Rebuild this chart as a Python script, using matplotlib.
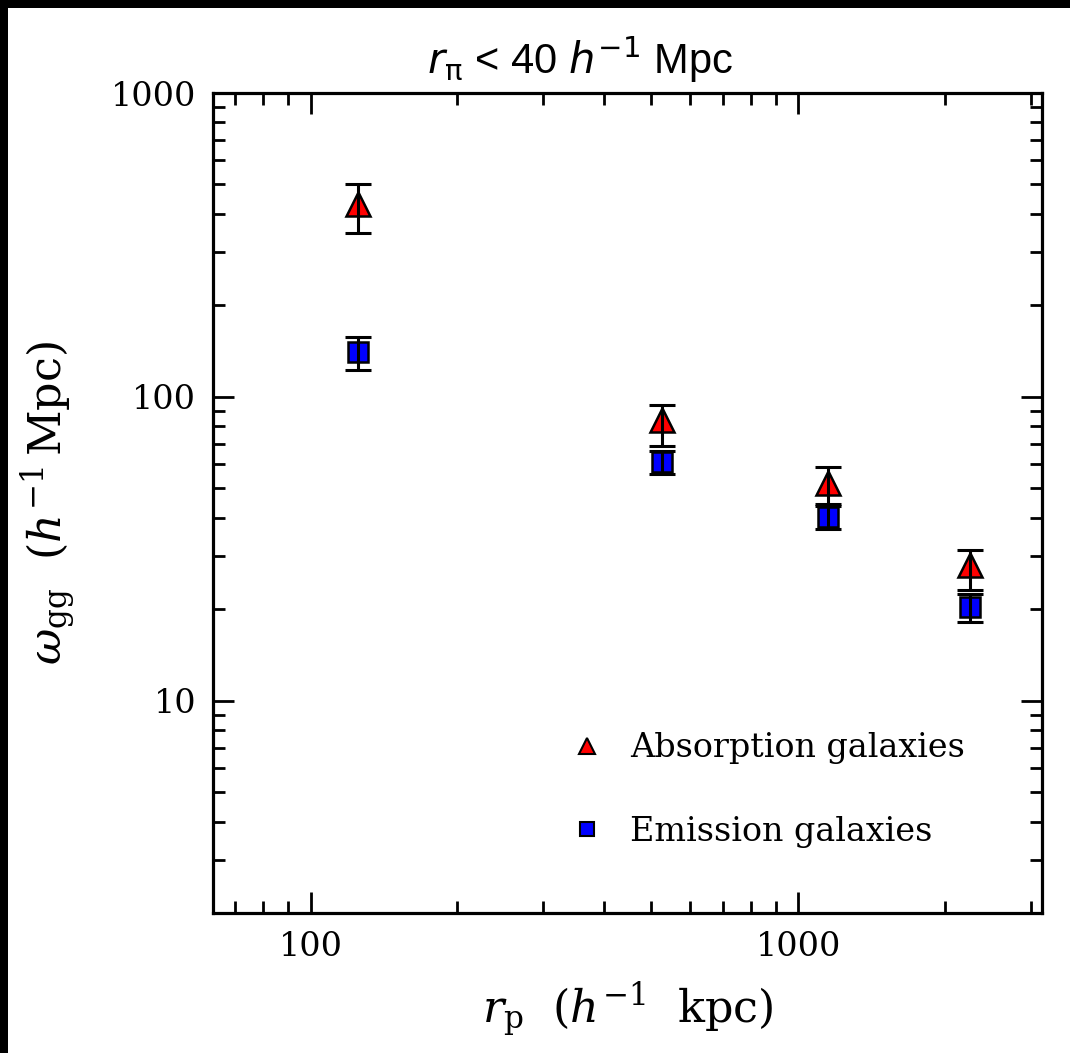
import matplotlib
matplotlib.use("Agg")
import matplotlib.pyplot as plt
from matplotlib.lines import Line2D
from matplotlib.patches import Rectangle
import numpy as np

# ---- data ----
rp = [125.3, 526.6, 1152.6, 2255.0]
abs_w = [431.0, 83.8, 52.2, 27.9]
abs_hi = [500.0, 94.2, 58.7, 31.3]
abs_lo = [345.0, 68.7, 44.5, 23.2]
em_w = [140.0, 60.9, 40.1, 20.3]
em_hi = [157.0, 66.1, 43.6, 22.4]
em_lo = [122.6, 55.8, 36.8, 18.1]
labels = ["Absorption galaxies", "Emission galaxies"]
xticks = [100, 1000]
yticks = [10, 100, 1000]

W, H = 1070, 1053
fig = plt.figure(figsize=(W / 100, H / 100), dpi=100)
fig.patch.set_facecolor("white")

# black frame strips (left and top)
fig.patches.append(Rectangle((0, 0), 8 / W, 1, transform=fig.transFigure,
                             facecolor="black", edgecolor="none", zorder=10))
fig.patches.append(Rectangle((0, 1 - 8 / H), 1, 8 / H, transform=fig.transFigure,
                             facecolor="black", edgecolor="none", zorder=10))

L, R, T, B = 213, 1042, 93, 913
ax = fig.add_axes([L / W, 1 - B / H, (R - L) / W, (B - T) / H])
ax.set_xscale("log")
ax.set_yscale("log")
ax.set_xlim(10 ** 1.8, 10 ** 3.5)
ax.set_ylim(2, 1000)

serif = "DejaVu Serif"

def err(y, lo, hi):
    y = np.asarray(y); lo = np.asarray(lo); hi = np.asarray(hi)
    return np.vstack([y - lo, hi - y])

ekw = dict(fmt="none", ecolor="black", elinewidth=2.2, capsize=9.5, capthick=2.2, zorder=3)
ax.errorbar(rp, abs_w, yerr=err(abs_w, abs_lo, abs_hi), **ekw)
ax.errorbar(rp, em_w, yerr=err(em_w, em_lo, em_hi), **ekw)
ax.plot(rp, abs_w, ls="none", marker="^", ms=17, mfc="#ff0000", mec="black", mew=1.8, zorder=2)
ax.plot(rp, em_w, ls="none", marker="s", ms=14, mfc="#0000ff", mec="black", mew=1.8, zorder=2)

for s in ax.spines.values():
    s.set_linewidth(2.3)

ax.tick_params(which="both", direction="in", top=True, right=True, width=2.0)
ax.tick_params(which="major", length=15, pad=13)
ax.tick_params(which="minor", length=8.5)
ax.tick_params(axis="y", which="major", pad=12)
ax.set_xticks(xticks)
ax.set_xticklabels([str(v) for v in xticks])
ax.set_yticks(yticks)
ax.set_yticklabels([str(v) for v in yticks])
for lab in ax.get_xticklabels() + ax.get_yticklabels():
    lab.set_fontfamily(serif)
    lab.set_fontsize(24)

ax.set_xlabel(r"$r_{\rm p}\ \ (h^{-1}\ \ {\rm kpc})$", fontsize=32,
              math_fontfamily="dejavuserif", labelpad=12)
ax.set_ylabel(r"$\omega_{\rm gg}\ \ (h^{-1}\,{\rm Mpc})$", fontsize=32,
              math_fontfamily="dejavuserif", labelpad=24)

fig.text(580 / W, 1 - 60 / H, r"$r_{\rm \pi}$ < 40 $h^{-1}$ Mpc",
         fontsize=30, family="Liberation Sans", math_fontfamily="dejavusans",
         ha="center", va="center")

handles = [
    Line2D([], [], ls="none", marker="^", ms=12, mfc="#ff0000", mec="black", mew=1.5),
    Line2D([], [], ls="none", marker="s", ms=10, mfc="#0000ff", mec="black", mew=1.5),
]
leg = ax.legend(handles, labels, loc="upper left", bbox_to_anchor=(0.415, 0.2366),
                frameon=False, prop={"family": serif, "size": 24},
                handlelength=1.0, handletextpad=0.79, labelspacing=1.55,
                borderpad=0.4, borderaxespad=0.0)

fig.savefig("out.png", dpi=100)
